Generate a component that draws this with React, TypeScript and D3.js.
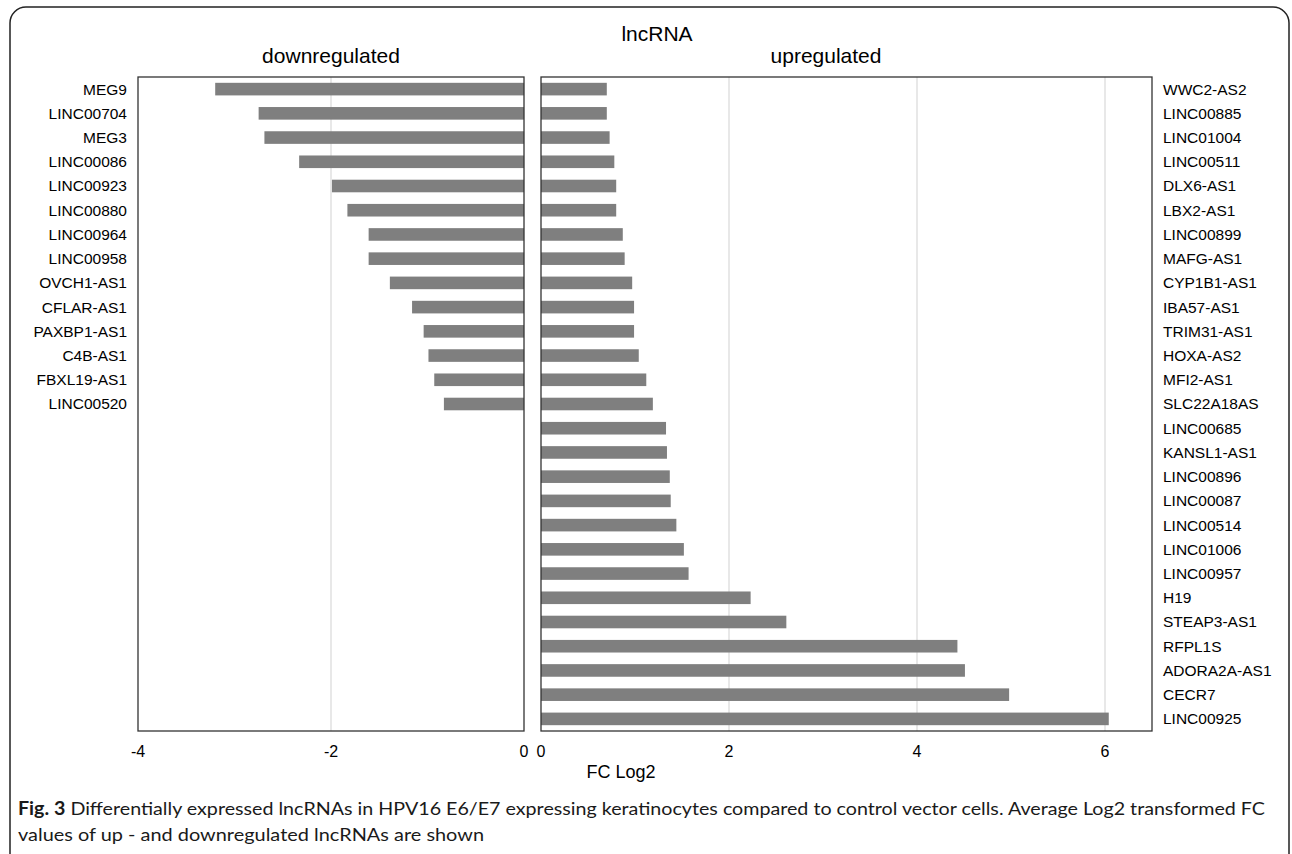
import React from "react";
import * as d3 from "d3";

// lncRNA log2 fold changes
const downNames = ["MEG9", "LINC00704", "MEG3", "LINC00086", "LINC00923", "LINC00880", "LINC00964", "LINC00958", "OVCH1-AS1", "CFLAR-AS1", "PAXBP1-AS1", "C4B-AS1", "FBXL19-AS1", "LINC00520"];
const downValues = [-3.2, -2.75, -2.69, -2.33, -1.99, -1.83, -1.61, -1.61, -1.39, -1.16, -1.04, -0.99, -0.93, -0.83];

const upNames = ["WWC2-AS2", "LINC00885", "LINC01004", "LINC00511", "DLX6-AS1", "LBX2-AS1", "LINC00899", "MAFG-AS1", "CYP1B1-AS1", "IBA57-AS1", "TRIM31-AS1", "HOXA-AS2", "MFI2-AS1", "SLC22A18AS", "LINC00685", "KANSL1-AS1", "LINC00896", "LINC00087", "LINC00514", "LINC01006", "LINC00957", "H19", "STEAP3-AS1", "RFPL1S", "ADORA2A-AS1", "CECR7", "LINC00925"];
const upValues = [0.7, 0.7, 0.73, 0.78, 0.8, 0.8, 0.87, 0.89, 0.97, 0.99, 0.99, 1.04, 1.12, 1.19, 1.33, 1.34, 1.37, 1.38, 1.44, 1.52, 1.57, 2.23, 2.61, 4.43, 4.51, 4.98, 6.04];

const downTicks = [-4, -2, 0];
const upTicks = [0, 2, 4, 6];

const W = 1292, H = 854;
const top = 77, bottom = 731;
const left = { x0: 138, x1: 524 };
const right = { x0: 541, x1: 1152 };
const barColor = "#7f7f7f";
const gridColor = "#d9d9d9";
const font = "'Liberation Sans', Arial, sans-serif";
const narrow = "'Liberation Sans Narrow', 'Liberation Sans', Arial, sans-serif";
const capFont = "Lato, 'Open Sans', sans-serif";

export default function App() {
  const y = d3.scaleBand<number>().domain(d3.range(upNames.length)).range([top, bottom]).paddingInner(0.48).paddingOuter(0.24);
  const xl = d3.scaleLinear().domain([-4, 0]).range([left.x0, left.x1]);
  const xr = d3.scaleLinear().domain([0, 6.5]).range([right.x0, right.x1]);

  return (
    <svg width={W} height={H} style={{ position: "absolute", left: 0, top: 0 }}>
      <rect x={0} y={0} width={W} height={H} fill="#fff" />
      <rect x={10} y={7} width={1279} height={870} rx={16} ry={16} fill="none" stroke="#222" strokeWidth={1.5} />

      <text x={657} y={41} textAnchor="middle" fontFamily={font} fontSize={21}>lncRNA</text>
      <text x={(left.x0 + left.x1) / 2} y={63} textAnchor="middle" fontFamily={font} fontSize={21}>downregulated</text>
      <text x={826} y={63} textAnchor="middle" fontFamily={font} fontSize={21}>upregulated</text>

      {/* left panel */}
      {downTicks.slice(1, -1).map(t => (
        <line key={"gl" + t} x1={xl(t)} x2={xl(t)} y1={top} y2={bottom} stroke={gridColor} strokeWidth={1.2} />
      ))}
      {downValues.map((v, i) => (
        <rect key={"d" + i} x={xl(v)} y={y(i)} width={xl(0) - xl(v)} height={y.bandwidth()} fill={barColor} />
      ))}
      <rect x={left.x0} y={top} width={left.x1 - left.x0} height={bottom - top} fill="none" stroke="#333" strokeWidth={1.3} />
      {downNames.map((n, i) => (
        <text key={"dn" + i} x={left.x0 - 11} y={y(i)! + y.bandwidth() / 2} dy="0.35em" textAnchor="end" fontFamily={font} fontSize={15.5}>{n}</text>
      ))}
      {downTicks.map(t => (
        <text key={"tl" + t} x={xl(t)} y={757} textAnchor="middle" fontFamily={narrow} fontSize={16}>{t}</text>
      ))}

      {/* right panel */}
      {upTicks.slice(1).map(t => (
        <line key={"gr" + t} x1={xr(t)} x2={xr(t)} y1={top} y2={bottom} stroke={gridColor} strokeWidth={1.2} />
      ))}
      {upValues.map((v, i) => (
        <rect key={"u" + i} x={xr(0)} y={y(i)} width={xr(v) - xr(0)} height={y.bandwidth()} fill={barColor} />
      ))}
      <rect x={right.x0} y={top} width={right.x1 - right.x0} height={bottom - top} fill="none" stroke="#333" strokeWidth={1.3} />
      {upNames.map((n, i) => (
        <text key={"un" + i} x={right.x1 + 11} y={y(i)! + y.bandwidth() / 2} dy="0.35em" textAnchor="start" fontFamily={font} fontSize={15.5}>{n}</text>
      ))}
      {upTicks.map(t => (
        <text key={"tr" + t} x={xr(t)} y={757} textAnchor="middle" fontFamily={narrow} fontSize={16}>{t}</text>
      ))}
      <text x={621} y={778} textAnchor="middle" fontFamily={narrow} fontSize={18}>FC Log2</text>

      {/* caption */}
      <text x={18} y={815} fontFamily={capFont} fontSize={18} fill="#1a1a1a" textLength={1247} lengthAdjust="spacingAndGlyphs">
        <tspan fontWeight="bold">Fig. 3</tspan> Differentially expressed lncRNAs in HPV16 E6/E7 expressing keratinocytes compared to control vector cells. Average Log2 transformed FC
      </text>
      <text x={18} y={841} fontFamily={capFont} fontSize={18} fill="#1a1a1a" textLength={466} lengthAdjust="spacingAndGlyphs">values of up - and downregulated lncRNAs are shown</text>
    </svg>
  );
}
